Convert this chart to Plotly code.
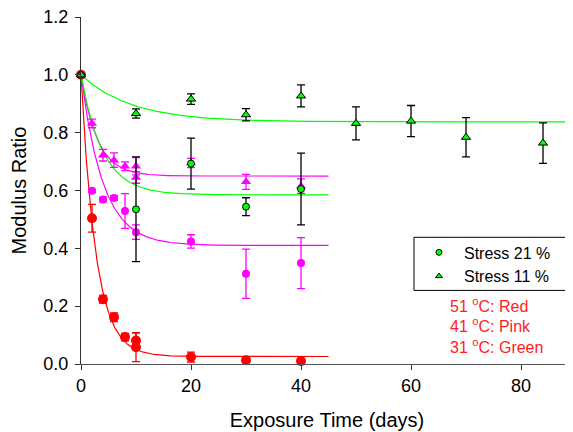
import numpy as np
import plotly.graph_objects as go

# ---------------- data ----------------
# 51 C, stress 21 % (red circles)
t_red = [0, 2, 4, 6, 8, 10, 10, 20, 30, 40]
y_red = [1.0, 0.504, 0.224, 0.162, 0.093, 0.081, 0.058, 0.024, 0.013, 0.010]
e_red = [0, 0.048, 0.013, 0.015, 0.013, 0.027, 0.050, 0.017, 0.004, 0.003]

# 41 C, stress 21 % (pink circles)
t_pink_c = [0, 2, 4, 6, 8, 10, 20, 30, 40]
y_pink_c = [1.0, 0.599, 0.569, 0.574, 0.529, 0.456, 0.424, 0.312, 0.349]
e_pink_c = [0, 0.006, 0.008, 0.008, 0.060, 0.025, 0.023, 0.085, 0.088]

# 41 C, stress 11 % (pink triangles)
t_pink_t = [0, 2, 4, 6, 8, 10, 10, 20, 30, 40]
y_pink_t = [1.0, 0.832, 0.722, 0.705, 0.684, 0.684, 0.645, 0.695, 0.630, 0.615]
e_pink_t = [0, 0.015, 0.020, 0.025, 0.015, 0.030, 0.020, 0.016, 0.026, 0.025]

# 31 C, stress 21 % (green circles)
t_green_c = [0, 10, 20, 30, 40]
y_green_c = [1.0, 0.535, 0.693, 0.544, 0.605]
e_green_c = [0, 0.181, 0.088, 0.031, 0.124]

# 31 C, stress 11 % (green triangles)
t_green_t = [0, 10, 20, 30, 40, 50, 60, 70, 84]
y_green_t = [1.0, 0.866, 0.916, 0.862, 0.927, 0.832, 0.840, 0.784, 0.764]
e_green_t = [0, 0.016, 0.018, 0.021, 0.038, 0.057, 0.054, 0.068, 0.070]

# exponential-decay fit parameters:
# y = plateau + (1 - plateau) * exp(-rate * t), drawn up to t_end
fit_plateau = [0.026, 0.410, 0.650, 0.585, 0.837]
fit_rate = [0.37, 0.25, 0.34, 0.255, 0.109]
fit_end = [45, 45, 45, 45, 90]
fit_color = ["#FF0000", "#FF00FF", "#FF00FF", "#00FF00", "#00FF00"]

temp_labels = ["51 <sup>o</sup>C: Red", "41 <sup>o</sup>C: Pink", "31 <sup>o</sup>C: Green"]
legend_labels = ["Stress 21 %", "Stress 11 %"]

# ---------------- figure ----------------
FONT = "Liberation Sans, Arial, sans-serif"
fig = go.Figure()

for p, k, te, c in zip(fit_plateau, fit_rate, fit_end, fit_color):
    tt = np.linspace(0, te, 400)
    yy = p + (1 - p) * np.exp(-k * tt)
    fig.add_trace(go.Scatter(x=tt, y=yy, mode="lines", line=dict(color=c, width=1.2),
                             showlegend=False, hoverinfo="skip"))

def pts(t, y, e, color, symbol, size, ecolor, outline):
    fig.add_trace(go.Scatter(
        x=t, y=y, mode="markers", showlegend=False, cliponaxis=False,
        marker=dict(color=color, symbol=symbol, size=size,
                    line=dict(color="black" if outline else color, width=1 if outline else 0)),
        error_y=dict(type="data", array=e, visible=True, color=ecolor, thickness=1.3, width=4),
    ))

pts(t_red, y_red, e_red, "#FF0000", "circle", 10, "#FF0000", False)
pts(t_pink_c, y_pink_c, e_pink_c, "#FF00FF", "circle", 8, "#FF00FF", False)
pts(t_pink_t, y_pink_t, e_pink_t, "#FF00FF", "triangle-up", 9, "#FF00FF", False)
pts(t_green_c, y_green_c, e_green_c, "#00FF00", "circle", 7, "black", True)
pts(t_green_t, y_green_t, e_green_t, "#00FF00", "triangle-up", 8, "black", True)

# legend entries
for name, sym in zip(legend_labels, ["circle", "triangle-up"]):
    fig.add_trace(go.Scatter(x=[None], y=[None], mode="markers", name=name,
                             marker=dict(color="#00FF00", symbol=sym, size=6,
                                         line=dict(color="black", width=1))))

# legend frame
fig.add_shape(type="rect", xref="paper", yref="paper",
              x0=0.6768, x1=0.9858, y0=0.2121, y1=0.3651,
              line=dict(color="black", width=1), fillcolor="rgba(0,0,0,0)")

ann_y = [0.169, 0.111, 0.052]
for txt, yy in zip(temp_labels, ann_y):
    fig.add_annotation(text=txt, x=0.746, y=yy, xref="paper", yref="paper",
                       xanchor="left", yanchor="middle", showarrow=False,
                       font=dict(family=FONT, size=16, color="#FF2020"))

# the page body has an 8px margin, so the figure is offset by (8, 8)
fig.update_layout(
    width=565, height=424,
    margin=dict(l=73, r=0, t=9, b=68, autoexpand=False),
    paper_bgcolor="white", plot_bgcolor="white",
    font=dict(family=FONT, size=16, color="black"),
    showlegend=True,
    legend=dict(x=0.6768, y=0.287, xanchor="left", yanchor="middle",
                borderwidth=0, bgcolor="rgba(0,0,0,0)",
                font=dict(family=FONT, size=16), itemwidth=40,
                tracegroupgap=0),
    xaxis=dict(range=[0, 89.45], tickvals=[0, 20, 40, 60, 80], ticks="outside",
               ticklen=5, tickcolor="#333", showline=True, linecolor="#555",
               linewidth=1, showgrid=False, zeroline=False, automargin=False,
               tickfont=dict(family=FONT, size=18),
               title=dict(text="Exposure Time (days)", font=dict(family=FONT, size=20),
                          standoff=18)),
    yaxis=dict(range=[0, 1.2], tickvals=[0, 0.2, 0.4, 0.6, 0.8, 1.0, 1.2],
               tickformat=".1f", ticks="outside", ticklen=5, tickcolor="#333",
               showline=True, linecolor="#333", linewidth=1, showgrid=False,
               zeroline=False, automargin=False, tickfont=dict(family=FONT, size=18),
               ticklabeloverflow="allow", ticklabelstandoff=3,
               title=dict(text="Modulus Ratio", font=dict(family=FONT, size=20),
                          standoff=12)),
)

fig.write_html("out.html")
